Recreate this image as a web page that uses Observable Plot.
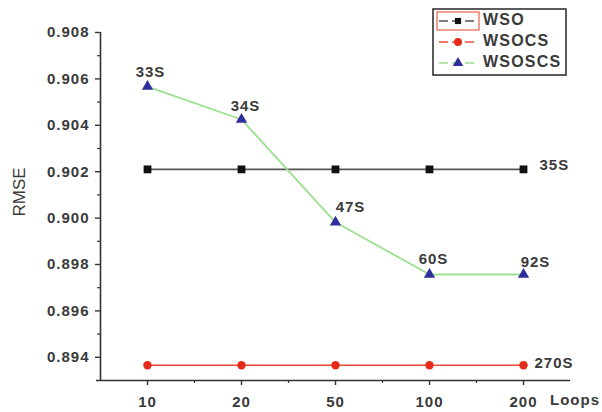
<!DOCTYPE html>
<html>
<head>
<meta charset="utf-8">
<script src="https://cdn.jsdelivr.net/npm/d3@7"></script>
<script src="https://cdn.jsdelivr.net/npm/@observablehq/plot@0.6"></script>
<style>
  html, body { margin: 0; padding: 0; background: #fff; }
  svg { font-family: "Liberation Sans", Arial, sans-serif; }
  svg g[aria-label="y-axis tick label"] text, svg g[aria-label="x-axis tick label"] text { letter-spacing: 1px; }
</style>
</head>
<body>
<div id="chart"></div>
<script>
// ---- data ----
const loops = ["10", "20", "50", "100", "200"];
const wso = [0.9021, 0.9021, 0.9021, 0.9021, 0.9021];
const wsocs = [0.89366, 0.89366, 0.89366, 0.89366, 0.89366];
const wsoscs = [0.90567, 0.90425, 0.89982, 0.89757, 0.89757];
const wsoscsTimes = ["33S", "34S", "47S", "60S", "92S"];
const wsoTime = "35S";
const wsocsTime = "270S";
const yTicks = [0.894, 0.896, 0.898, 0.900, 0.902, 0.904, 0.906, 0.908];
const yMinor = [0.895, 0.897, 0.899, 0.901, 0.903, 0.905, 0.907];
const seriesNames = ["WSO", "WSOCS", "WSOSCS"];

const rows = loops.map((l, i) => ({i, loop: l, wso: wso[i], wsocs: wsocs[i], wsoscs: wsoscs[i], t: wsoscsTimes[i]}));
const last = rows[rows.length - 1];

const txt = "#3a3a3a";
const fnt = {fontSize: 15, fontWeight: "bold", fill: txt};

// label offsets for WSOSCS annotations
const offs = [[3, -14], [4, -13], [15, -15], [4, -15], [12, -12]];

const chart = Plot.plot({
  width: 602,
  height: 412,
  marginLeft: 100,
  marginRight: 32,
  marginTop: 32,
  marginBottom: 32,
  x: {type: "linear", domain: [-0.5, 4.5]},
  y: {domain: [0.893, 0.908]},
  style: {fontFamily: "'Liberation Sans', Arial, sans-serif", background: "#fff"},
  marks: [
    Plot.ruleY([0.893], {stroke: "#333", strokeWidth: 1.6, insetLeft: -4}),
    Plot.ruleX([-0.5], {stroke: "#333", strokeWidth: 1.6}),
    Plot.axisY({ticks: yTicks, tickFormat: d3.format(".3f"), tickSize: 5, tickPadding: 6, label: null,
      fontSize: 15, fontWeight: "bold", color: txt, stroke: "#333", strokeWidth: 1.4}),
    Plot.axisY({ticks: yMinor, tickSize: 3, text: null, label: null, stroke: "#333", strokeWidth: 1.2}),
    Plot.axisX({ticks: d3.range(loops.length), tickFormat: i => loops[i], tickSize: 5, tickPadding: 11, label: null,
      fontSize: 15, fontWeight: "bold", color: txt, stroke: "#333", strokeWidth: 1.4}),
    Plot.axisX({ticks: [0.5, 1.5, 2.5, 3.5], tickSize: 3, text: null, label: null, stroke: "#333", strokeWidth: 1.2}),
    // lines
    Plot.line(rows, {x: "i", y: "wso", stroke: "#555", strokeWidth: 1.8}),
    Plot.line(rows, {x: "i", y: "wsocs", stroke: "#ee4a38", strokeWidth: 1.5}),
    Plot.line(rows, {x: "i", y: "wsoscs", stroke: "#9be08e", strokeWidth: 1.8}),
    // markers
    Plot.dot(rows, {x: "i", y: "wso", symbol: "square", r: 4.4, fill: "#111", stroke: "none"}),
    Plot.dot(rows, {x: "i", y: "wsocs", symbol: "circle", r: 4.2, fill: "#e52a1a", stroke: "none"}),
    Plot.dot(rows, {x: "i", y: "wsoscs", symbol: "triangle", r: 4.2, fill: "#2e2e9c", stroke: "none"}),
    // annotations
    ...rows.map((d, k) => Plot.text([d], {x: "i", y: "wsoscs", text: "t", dx: offs[k][0], dy: offs[k][1], ...fnt})),
    Plot.text([last], {x: "i", y: "wso", text: () => wsoTime, dx: 16, dy: -4, textAnchor: "start", ...fnt}),
    Plot.text([last], {x: "i", y: "wsocs", text: () => wsocsTime, dx: 11, dy: -2, textAnchor: "start", ...fnt})
  ]
});

document.getElementById("chart").appendChild(chart);
d3.select(chart).selectAll('g[aria-label="text"] text').style("letter-spacing", "1px");

// ---- axis titles and legend ----
const svg = d3.select(chart);
svg.append("text").attr("transform", "translate(21,192) rotate(-90)")
  .attr("text-anchor", "middle").attr("dominant-baseline", "middle")
  .attr("font-size", 17).attr("fill", txt).text("RMSE");
svg.append("text").attr("x", 550).attr("y", 401).attr("text-anchor", "start")
  .attr("dominant-baseline", "middle").attr("font-size", 15).attr("font-weight", "bold")
  .attr("fill", txt).attr("letter-spacing", 1).text("Loops");

const lg = svg.append("g");
lg.append("rect").attr("x", 433).attr("y", 9).attr("width", 133).attr("height", 66)
  .attr("fill", "#fff").attr("stroke", "#333").attr("stroke-width", 1.6);
lg.append("rect").attr("x", 437).attr("y", 12).attr("width", 42).attr("height", 18)
  .attr("fill", "none").attr("stroke", "#e8604c").attr("stroke-width", 1.2);
const lgCol = [
  {stroke: "#555", fill: "#111", sym: d3.symbolSquare, size: 38},
  {stroke: "#ee4a38", fill: "#e52a1a", sym: d3.symbolCircle, size: 50},
  {stroke: "#9be08e", fill: "#2e2e9c", sym: d3.symbolTriangle, size: 48}
];
seriesNames.forEach((name, k) => {
  const cy = 21 + k * 21;
  const c = lgCol[k];
  lg.append("line").attr("x1", 439).attr("x2", 477).attr("y1", cy).attr("y2", cy)
    .attr("stroke", c.stroke).attr("stroke-width", 1.5).attr("stroke-dasharray", "9,4");
  lg.append("path").attr("d", d3.symbol(c.sym, c.size)()).attr("transform", `translate(458,${cy})`).attr("fill", c.fill);
  lg.append("text").attr("x", 483).attr("y", cy).attr("text-anchor", "start").attr("dominant-baseline", "middle")
    .attr("font-size", 16).attr("font-weight", "bold").attr("fill", txt).attr("letter-spacing", 1.2).text(name);
});
</script>
</body>
</html>
